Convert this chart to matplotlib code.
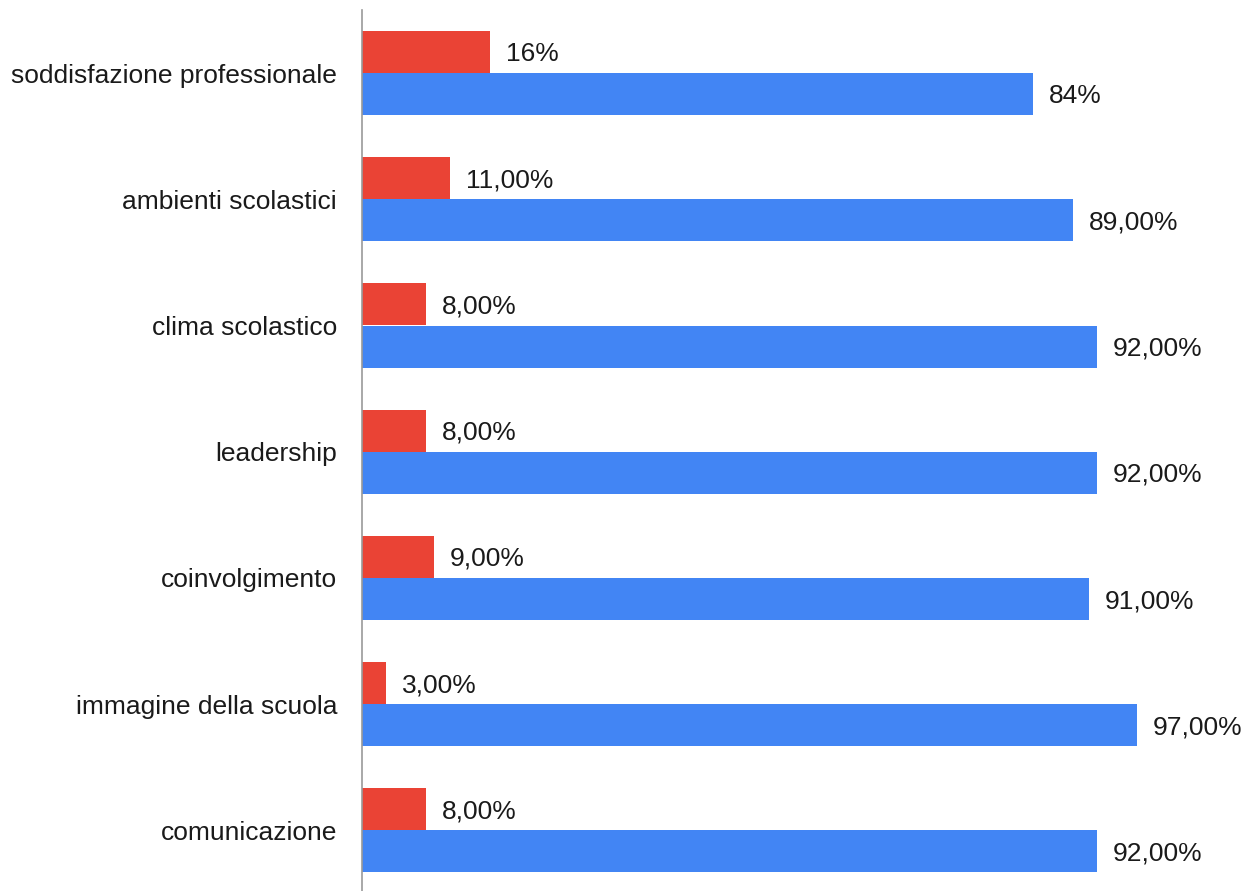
import matplotlib.pyplot as plt
import numpy as np

# data
categories = ['soddisfazione professionale', 'ambienti scolastici', 'clima scolastico',
              'leadership', 'coinvolgimento', 'immagine della scuola', 'comunicazione']
red_values = [16, 11, 8, 8, 9, 3, 8]
blue_values = [84, 89, 92, 92, 91, 97, 92]
red_labels = ['16%', '11,00%', '8,00%', '8,00%', '9,00%', '3,00%', '8,00%']
blue_labels = ['84%', '89,00%', '92,00%', '92,00%', '91,00%', '97,00%', '92,00%']

plt.rcParams['font.family'] = ['Liberation Sans', 'DejaVu Sans']

fig = plt.figure(figsize=(12.45, 8.91), dpi=100)
# unit of 126.2 px per group, axis starting 10 px from the top
ax = fig.add_axes([362 / 1245, (891 - 10 - 7 * 126.2) / 891, 883 / 1245, 7 * 126.2 / 891])

y = np.arange(len(categories))
h = 1 / 3
red_bars = ax.barh(y - h / 2, red_values, height=h, color='#EA4335')
blue_bars = ax.barh(y + h / 2, blue_values, height=h, color='#4285F4')

# value labels just right of each bar
for bars, labels in [(red_bars, red_labels), (blue_bars, blue_labels)]:
    for bar, lab in zip(bars, labels):
        ax.annotate(lab, (bar.get_width(), bar.get_y() + bar.get_height() / 2),
                    xytext=(11.5, -1.5), textcoords='offset points',
                    ha='left', va='center', fontsize=19, color='#1a1a1a')

ax.set_ylim(len(categories) - 0.5, -0.5)
ax.set_xlim(0, 110.5)
ax.set_yticks(y)
ax.set_yticklabels(categories, fontsize=19, color='#1a1a1a')
ax.tick_params(axis='y', length=0, pad=18)
ax.set_xticks([])

for side in ['top', 'right', 'bottom']:
    ax.spines[side].set_visible(False)
ax.spines['left'].set_color('#999999')
ax.spines['left'].set_linewidth(1.2)

fig.savefig('out.png', dpi=100)
